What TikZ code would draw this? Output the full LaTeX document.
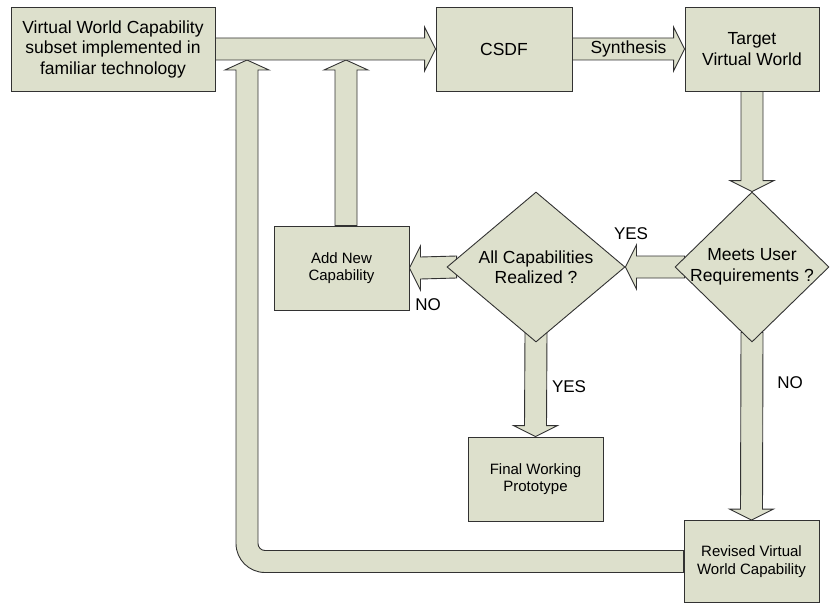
\documentclass[tikz,border=0pt]{standalone}
\usepackage{fontspec}
\setmainfont{Liberation Sans}
\usetikzlibrary{shapes.geometric,calc,backgrounds}

\definecolor{boxfill}{RGB}{221,224,204}
\definecolor{edge}{RGB}{50,50,50}

% block arrows: shaft half-width 11, head half-width 22, head length 11
\newcommand\blkright[2]{%
  \draw[blk] ([yshift=11pt]#1) -- ([xshift=-11pt,yshift=11pt]#2) -- ([xshift=-11pt,yshift=22pt]#2)
    -- (#2) -- ([xshift=-11pt,yshift=-22pt]#2) -- ([xshift=-11pt,yshift=-11pt]#2)
    -- ([yshift=-11pt]#1) -- cycle;}
\newcommand\blkleft[2]{%
  \draw[blk] ([yshift=11pt]#1) -- ([xshift=11pt,yshift=11pt]#2) -- ([xshift=11pt,yshift=22pt]#2)
    -- (#2) -- ([xshift=11pt,yshift=-22pt]#2) -- ([xshift=11pt,yshift=-11pt]#2)
    -- ([yshift=-11pt]#1) -- cycle;}
\newcommand\blkdown[2]{%
  \draw[blk] ([xshift=-11pt]#1) -- ([xshift=-11pt,yshift=11pt]#2) -- ([xshift=-22pt,yshift=11pt]#2)
    -- (#2) -- ([xshift=22pt,yshift=11pt]#2) -- ([xshift=11pt,yshift=11pt]#2)
    -- ([xshift=11pt]#1) -- cycle;}
\newcommand\blkup[2]{%
  \draw[blk] ([xshift=-11pt]#1) -- ([xshift=-11pt,yshift=-10pt]#2) -- ([xshift=-22pt,yshift=-10pt]#2)
    -- (#2) -- ([xshift=22pt,yshift=-10pt]#2) -- ([xshift=11pt,yshift=-10pt]#2)
    -- ([xshift=11pt]#1) -- cycle;}

\begin{document}
\begin{tikzpicture}[x=1pt,y=-1pt,
  blk/.style={draw=edge,fill=boxfill,line width=0.9pt,line join=miter},
  procbox/.style={draw=edge,fill=boxfill,line width=0.9pt,rectangle,inner sep=0pt,align=center},
  bigtext/.style={font=\fontsize{17.5}{20.5}\selectfont},
  smalltext/.style={font=\fontsize{15}{17.5}\selectfont},
  decision/.style={draw=edge,fill=boxfill,line width=0.9pt,diamond,inner sep=0pt},
  tag/.style={font=\fontsize{17}{20}\selectfont,inner sep=0pt}]

\useasboundingbox (0,0) rectangle (832,607);

% process boxes
\node[procbox,bigtext,minimum width=204pt,minimum height=84pt] (base) at (113,49)
  {Virtual World Capability\\subset implemented in\\familiar technology};
\node[procbox,bigtext,minimum width=136pt,minimum height=84pt] (csdf) at (504,49) {CSDF};
\node[procbox,bigtext,minimum width=134pt,minimum height=84pt] (target) at (752,49)
  {Target\\Virtual World};
\node[procbox,smalltext,minimum width=135pt,minimum height=84pt] (addnew) at (341.5,268)
  {Add New\\Capability};
\node[procbox,smalltext,minimum width=135pt,minimum height=84pt] (final) at (535.5,479)
  {Final Working\\Prototype};
\node[procbox,smalltext,minimum width=135pt,minimum height=82pt] (revised) at (751.5,561.5)
  {Revised Virtual\\World Capability};

% decisions
\node[decision,minimum width=154pt,minimum height=150pt] (meets) at (752,267) {};
\node[bigtext,align=center,inner sep=0pt] (meets-t) at (meets.center) {Meets User\\Requirements ?};
\node[decision,minimum width=178pt,minimum height=150pt] (allcap) at (536,267) {};
\node[bigtext,align=center,inner sep=0pt] (allcap-t) at (allcap.center) {All Capabilities\\Realized ?};

% arrow end points on the main shaft and just inside the decisions
\coordinate (tipA) at (247,60);
\coordinate (tipB) at (346,60);
\coordinate (addnew-n) at (tipB |- addnew.north);
\coordinate (meets-w) at ([xshift=10pt]meets.west);
\coordinate (meets-s) at ([yshift=10pt]meets.south);
\coordinate (allcap-w) at ([xshift=10pt]allcap.west);
\coordinate (allcap-s) at ([yshift=10pt]allcap.south);
\coordinate (lc) at (revised.west -| tipA);

\begin{pgfonlayer}{background}
  % feedback loop from the revised capability back to the main flow
  \draw[blk] ([yshift=11pt]revised.west) -- ($(lc)+(18,-11)$)
    arc[start angle=90,end angle=180,radius=7]
    -- ($(tipA)+(11,10)$) -- ($(tipA)+(22,10)$) -- (tipA) -- ($(tipA)+(-22,10)$)
    -- ($(tipA)+(-11,10)$) -- ($(lc)+(-11,-18)$)
    arc[start angle=180,end angle=90,radius=29]
    -- ([yshift=-11pt]revised.west) -- cycle;
  \blkup{addnew-n}{tipB}
  \blkright{base.east}{csdf.west}
  \blkright{csdf.east}{target.west}
  \blkdown{target.south}{meets.north}
  \blkleft{meets-w}{allcap.east}
  \blkleft{allcap-w}{addnew.east}
  \blkdown{allcap-s}{final.north}
  \blkdown{meets-s}{revised.north}
\end{pgfonlayer}

% labels on the arrows
\node[bigtext,inner sep=0pt] (synth) at ($(csdf.east)!0.5!(target.west)$) {Synthesis};
\node[tag] (yes1) at (631,234) {YES};
\node[tag] (no1) at (428,305) {NO};
\node[tag] (yes2) at (569,387) {YES};
\node[tag] (no2) at (790,383) {NO};

\end{tikzpicture}
\end{document}
